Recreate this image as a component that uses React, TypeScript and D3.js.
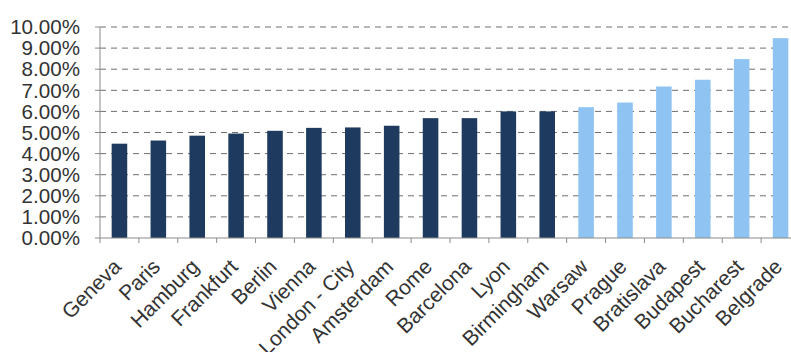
import React from "react";
import * as d3 from "d3";

const cities = [
  "Geneva", "Paris", "Hamburg", "Frankfurt", "Berlin", "Vienna", "London - City",
  "Amsterdam", "Rome", "Barcelona", "Lyon", "Birmingham", "Warsaw", "Prague",
  "Bratislava", "Budapest", "Bucharest", "Belgrade",
];
const yields = [
  4.47, 4.62, 4.85, 4.95, 5.08, 5.22, 5.24, 5.32, 5.68, 5.68, 6.0, 6.0,
  6.2, 6.42, 7.18, 7.5, 8.48, 9.47,
];
const groups = [
  "west", "west", "west", "west", "west", "west", "west", "west", "west", "west", "west", "west",
  "cee", "cee", "cee", "cee", "cee", "cee",
];
const yTicks = [0, 1, 2, 3, 4, 5, 6, 7, 8, 9, 10];
const groupColors: Record<string, string> = { west: "#1f3a5f", cee: "#8fc3f2" };

const W = 791;
const H = 352;
const left = 100;
const right = 800;
const top = 27;
const bottom = 238;

export default function App() {
  const x = d3.scaleBand<string>().domain(cities).range([left, right]).paddingInner(0.6).paddingOuter(0.3);
  const y = d3.scaleLinear().domain([0, 10]).range([bottom, top]);
  const step = x.step();
  const font = "Arial, 'Liberation Sans', sans-serif";
  const fmt = (v: number) => v.toFixed(2) + "%";

  return (
    <svg width={W} height={H} style={{ position: "absolute", left: 0, top: 0, background: "#fff" }}>
      <rect x={0} y={0} width={W} height={H} fill="#fff" />
      {yTicks.filter((t) => t > 0).map((t) => (
        <line key={"g" + t} x1={left} x2={right} y1={y(t)} y2={y(t)} stroke="#6e6e6e" strokeWidth={1} strokeDasharray="6,5" />
      ))}
      {cities.map((c, i) => (
        <rect key={c} x={x(c)} y={y(yields[i])} width={x.bandwidth()} height={bottom - y(yields[i])} fill={groupColors[groups[i]]} />
      ))}
      <line x1={left} x2={left} y1={top} y2={bottom} stroke="#8a8a8a" strokeWidth={1} />
      {yTicks.map((t) => (
        <g key={"yt" + t}>
          <line x1={left - 5} x2={left} y1={y(t)} y2={y(t)} stroke="#8a8a8a" />
          <text x={80} y={y(t)} dy="0.35em" textAnchor="end" fontFamily={font} fontSize={20.6} fill="#333">
            {fmt(t)}
          </text>
        </g>
      ))}
      <line x1={left} x2={right} y1={bottom} y2={bottom} stroke="#8a8a8a" strokeWidth={1} />
      {cities.map((c, i) => (
        <line key={"xt" + c} x1={left + i * step} x2={left + i * step} y1={bottom} y2={bottom + 5} stroke="#8a8a8a" />
      ))}
      {cities.map((c) => {
        const cx = (x(c) as number) + x.bandwidth() / 2 + 3;
        const cy = bottom + 30;
        return (
          <text key={"xl" + c} x={cx} y={cy} transform={`rotate(-45, ${cx}, ${cy})`} textAnchor="end" fontFamily={font} fontSize={21} fill="#333">
            {c}
          </text>
        );
      })}
    </svg>
  );
}
